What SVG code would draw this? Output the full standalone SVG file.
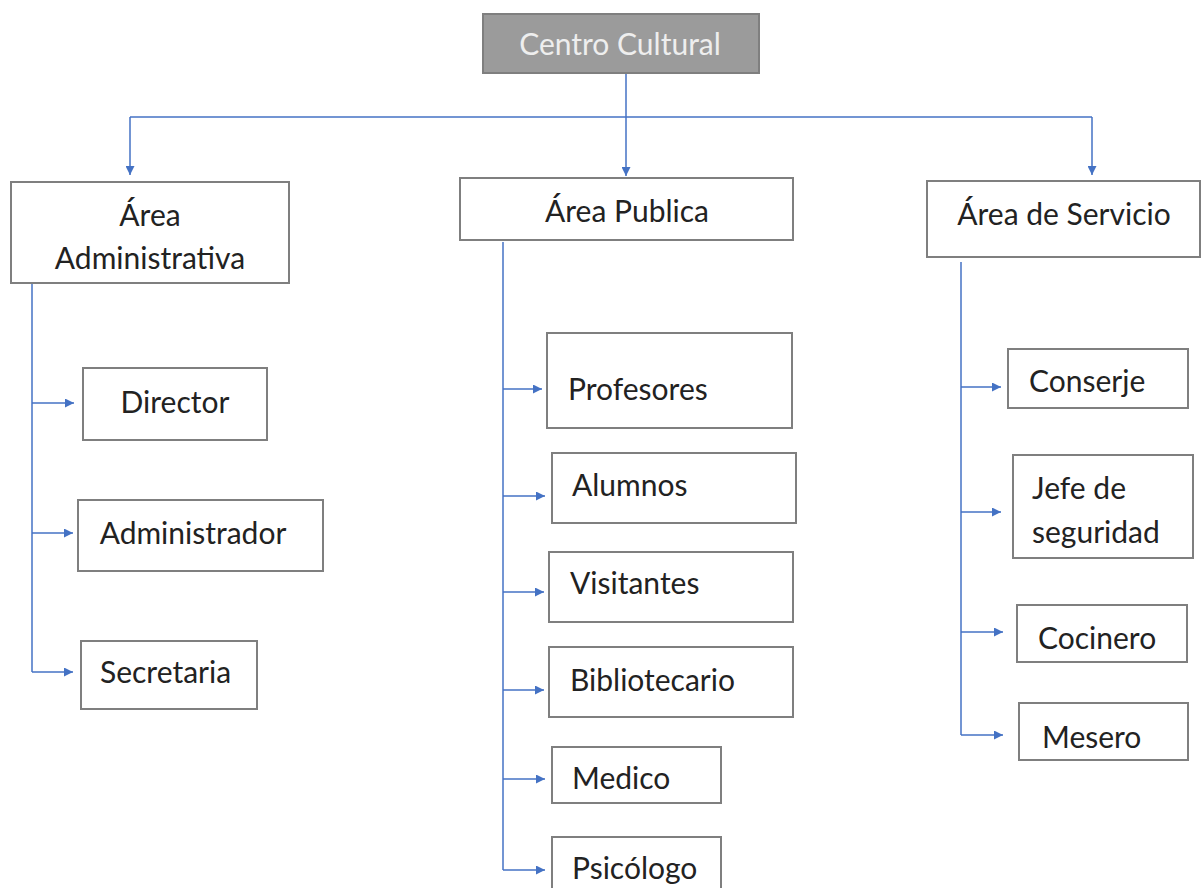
<svg xmlns="http://www.w3.org/2000/svg" width="1201" height="888" viewBox="0 0 1201 888">
<defs>
<marker id="ah" viewBox="0 0 10 10" refX="10" refY="5" markerWidth="10" markerHeight="9" markerUnits="userSpaceOnUse" orient="auto">
<path d="M0,0 L10,5 L0,10 Z" fill="#4472c4"/>
</marker>
<style>
.box{fill:#ffffff;stroke:#7f7f7f;stroke-width:2}
.top{fill:#9b9b9b;stroke:#7f7f7f;stroke-width:2}
.t{font-family:Lato,"Open Sans",sans-serif;font-size:30px;fill:#222222}
.tw{font-family:Lato,"Open Sans",sans-serif;font-size:30px;fill:#eeeeee}
.c{fill:none;stroke:#4472c4;stroke-width:1.5}
.ca{fill:none;stroke:#4472c4;stroke-width:1.5;marker-end:url(#ah)}
</style>
</defs>
<rect width="1201" height="888" fill="#ffffff"/>
<g id="connectors">
<line class="c" x1="626" y1="74" x2="626" y2="117"/>
<line class="c" x1="130" y1="117" x2="1092" y2="117"/>
<line class="ca" x1="130" y1="117" x2="130" y2="175"/>
<line class="ca" x1="626" y1="117" x2="626" y2="176"/>
<line class="ca" x1="1092" y1="117" x2="1092" y2="175"/>
<line class="c" x1="32" y1="284" x2="32" y2="672"/>
<line class="ca" x1="32" y1="403" x2="74" y2="403"/>
<line class="ca" x1="32" y1="533" x2="73" y2="533"/>
<line class="ca" x1="32" y1="672" x2="73" y2="672"/>
<line class="c" x1="503" y1="242" x2="503" y2="870"/>
<line class="ca" x1="503" y1="389" x2="542" y2="389"/>
<line class="ca" x1="503" y1="496" x2="545" y2="496"/>
<line class="ca" x1="503" y1="592" x2="544" y2="592"/>
<line class="ca" x1="503" y1="690" x2="544" y2="690"/>
<line class="ca" x1="503" y1="779" x2="545" y2="779"/>
<line class="ca" x1="503" y1="870" x2="545" y2="870"/>
<line class="c" x1="961" y1="262" x2="961" y2="735"/>
<line class="ca" x1="961" y1="387" x2="1001" y2="387"/>
<line class="ca" x1="961" y1="512" x2="1001" y2="512"/>
<line class="ca" x1="961" y1="632" x2="1003" y2="632"/>
<line class="ca" x1="961" y1="735" x2="1003" y2="735"/>
</g>
<g id="centro"><rect class="top" x="483" y="14" width="276" height="59"/><text class="tw" x="620" y="55" text-anchor="middle">Centro Cultural</text></g>
<g id="admin"><rect class="box" x="11" y="182" width="278" height="101"/><text class="t" x="150" y="226" text-anchor="middle">Área</text><text class="t" x="150" y="269" text-anchor="middle">Administrativa</text></g>
<g id="publica"><rect class="box" x="460" y="178" width="333" height="62"/><text class="t" x="627" y="222" text-anchor="middle">Área Publica</text></g>
<g id="servicio"><rect class="box" x="927" y="181" width="273" height="76"/><text class="t" x="1064" y="225" text-anchor="middle">Área de Servicio</text></g>
<g id="director"><rect class="box" x="83" y="368" width="184" height="72"/><text class="t" x="175" y="413" text-anchor="middle">Director</text></g>
<g id="administrador"><rect class="box" x="78" y="500" width="245" height="71"/><text class="t" x="193" y="544" text-anchor="middle">Administrador</text></g>
<g id="secretaria"><rect class="box" x="81" y="641" width="176" height="68"/><text class="t" x="100" y="683">Secretaria</text></g>
<g id="profesores"><rect class="box" x="547" y="333" width="245" height="95"/><text class="t" x="568" y="400">Profesores</text></g>
<g id="alumnos"><rect class="box" x="552" y="453" width="244" height="70"/><text class="t" x="572" y="496">Alumnos</text></g>
<g id="visitantes"><rect class="box" x="549" y="552" width="244" height="70"/><text class="t" x="570" y="594">Visitantes</text></g>
<g id="bibliotecario"><rect class="box" x="549" y="647" width="244" height="70"/><text class="t" x="570" y="691">Bibliotecario</text></g>
<g id="medico"><rect class="box" x="552" y="747" width="169" height="56"/><text class="t" x="572" y="789">Medico</text></g>
<g id="psicologo"><rect class="box" x="552" y="837" width="169" height="60"/><text class="t" x="572" y="879">Psicólogo</text></g>
<g id="conserje"><rect class="box" x="1008" y="349" width="180" height="59"/><text class="t" x="1029" y="392">Conserje</text></g>
<g id="jefe"><rect class="box" x="1013" y="455" width="180" height="103"/><text class="t" x="1032" y="499">Jefe de</text><text class="t" x="1032" y="543">seguridad</text></g>
<g id="cocinero"><rect class="box" x="1017" y="605" width="170" height="57"/><text class="t" x="1038" y="649">Cocinero</text></g>
<g id="mesero"><rect class="box" x="1019" y="703" width="169" height="57"/><text class="t" x="1042" y="748">Mesero</text></g>
</svg>
